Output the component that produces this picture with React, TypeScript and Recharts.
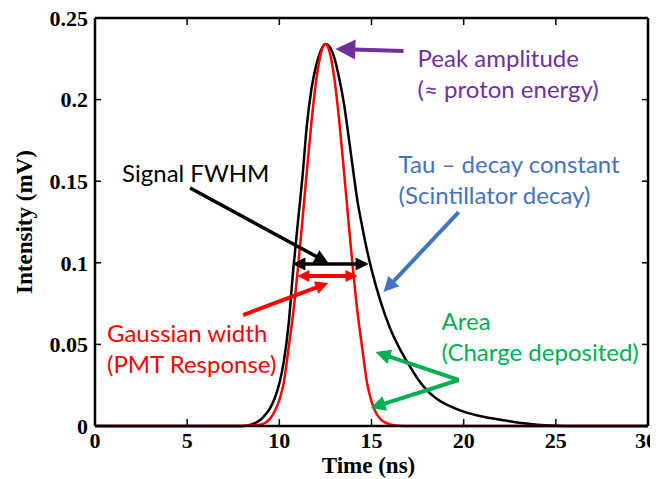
import React from "react";
import {
  LineChart,
  Line,
  XAxis,
  YAxis,
  CartesianGrid,
  ReferenceLine,
  ReferenceDot,
} from "recharts";

// time axis (ns) – denser around the pulse
const timeNs = [
  0, 1, 2, 3, 4, 5, 6, 7, 8, 8.5, 9, 9.25, 9.5, 9.75, 10, 10.25, 10.5, 10.75,
  11, 11.25, 11.5, 11.75, 12, 12.25, 12.5, 12.75, 13, 13.25, 13.5, 13.75, 14,
  14.25, 14.5, 14.75, 15, 15.5, 16, 16.5, 17, 17.5, 18, 18.5, 19, 19.5, 20, 21,
  22, 23, 24, 25, 26, 27, 28, 29, 30,
];

// measured signal (black)
const signalMv = [
  0, 0, 0, 0, 0, 0, 0, 0, 0, 0.001, 0.004, 0.007, 0.011, 0.017, 0.026, 0.04,
  0.062, 0.095, 0.124, 0.152, 0.185, 0.207, 0.221, 0.23, 0.234, 0.232, 0.225,
  0.213, 0.198, 0.178, 0.157, 0.137, 0.122, 0.108, 0.096, 0.076, 0.06, 0.048,
  0.038, 0.029, 0.022, 0.017, 0.0135, 0.011, 0.0088, 0.0058, 0.0038, 0.002,
  0.0008, 0.0002, 0, 0, 0, 0, 0,
];

// gaussian PMT response (red)
const gaussianMv = [
  0, 0, 0, 0, 0, 0, 0, 0, 0, 0.0004, 0.001, 0.002, 0.0045, 0.009, 0.016, 0.027,
  0.0475, 0.069, 0.0955, 0.1255, 0.157, 0.187, 0.2118, 0.2282, 0.234, 0.2282,
  0.2118, 0.187, 0.157, 0.1255, 0.0955, 0.069, 0.0475, 0.027, 0.015, 0.004,
  0.001, 0.0002, 0, 0, 0, 0, 0, 0, 0, 0, 0, 0, 0, 0, 0, 0, 0, 0, 0,
];

const xTicks = [0, 5, 10, 15, 20, 25, 30];
const yTicks = [0, 0.05, 0.1, 0.15, 0.2, 0.25];
const xMax = 30;
const yMax = 0.25;

const data = timeNs.map((t, i) => ({ t, signal: signalMv[i], gauss: gaussianMv[i] }));

// annotations in data units (time, intensity) – left edge / baseline of first line
const notes = [
  { lines: ["Peak amplitude", "(\u2248 proton energy)"], t: 17.5, v: 0.22, color: "#7030A0" },
  { lines: ["Tau \u2013 decay constant", "(Scintillator decay)"], t: 16.47, v: 0.155, color: "#4472C4" },
  { lines: ["Signal FWHM"], t: 1.47, v: 0.1495, color: "#000000" },
  { lines: ["Gaussian width", "(PMT Response)"], t: 0.65, v: 0.0515, color: "#FF0000" },
  { lines: ["Area", "(Charge deposited)"], t: 18.8, v: 0.0588, color: "#00B050" },
];

const arrows = [
  { from: [16.74, 0.2298], to: [13.04, 0.231], color: "#7030A0", both: false, head: 20, w: 4 },
  { from: [19.73, 0.1311], to: [15.65, 0.0821], color: "#4472C4", both: false, head: 15, w: 4 },
  { from: [5.16, 0.1458], to: [12.66, 0.0999], color: "#000000", both: false, head: 14, w: 3.5 },
  { from: [10.71, 0.0993], to: [14.84, 0.0993], color: "#000000", both: true, head: 13, w: 3.5 },
  { from: [10.98, 0.0919], to: [14.24, 0.0919], color: "#FF0000", both: true, head: 12, w: 4 },
  { from: [8.04, 0.068], to: [12.66, 0.0876], color: "#FF0000", both: false, head: 13, w: 4 },
  { from: [19.73, 0.0282], to: [15.22, 0.0453], color: "#00B050", both: false, head: 15, w: 4 },
  { from: [19.73, 0.0282], to: [14.95, 0.011], color: "#00B050", both: false, head: 15, w: 4 },
];

// chart box
const W = 646;
const H = 471;
const margin = { top: 10, right: 6, bottom: 0, left: 0 };
const yAxisW = 87;
const xAxisH = 53;
const plotW = W - margin.left - margin.right - yAxisW;
const plotH = H - margin.top - margin.bottom - xAxisH;
const tickLen = 7;
const tickGap = 13;

const serif = "'Liberation Serif', 'Times New Roman', serif";
const sans = "Lato, 'Open Sans', sans-serif";

const arrowShape = (color: string, both: boolean, head: number, w: number) => (p: any) => {
  const { x1, y1, x2, y2 } = p;
  const dx = x2 - x1;
  const dy = y2 - y1;
  const len = Math.sqrt(dx * dx + dy * dy) || 1;
  const ux = dx / len;
  const uy = dy / len;
  const px = -uy;
  const py = ux;
  const hw = head * 0.5;
  const tri = (tx: number, ty: number, dirx: number, diry: number) => {
    const bx = tx - dirx * head;
    const by = ty - diry * head;
    return `${tx},${ty} ${bx + px * hw},${by + py * hw} ${bx - px * hw},${by - py * hw}`;
  };
  const sx = both ? x1 + ux * (head - 2) : x1;
  const sy = both ? y1 + uy * (head - 2) : y1;
  return (
    <g>
      <line x1={sx} y1={sy} x2={x2 - ux * (head - 2)} y2={y2 - uy * (head - 2)} stroke={color} strokeWidth={w} />
      <polygon points={tri(x2, y2, ux, uy)} fill={color} />
      {both && <polygon points={tri(x1, y1, -ux, -uy)} fill={color} />}
    </g>
  );
};

const noteShape = (lines: string[], color: string) => (p: any) => (
  <text x={p.cx} y={p.cy} fill={color} fontFamily={sans} fontSize={24}>
    {lines.map((l, i) => (
      <tspan key={i} x={p.cx} dy={i === 0 ? 0 : 31}>
        {l}
      </tspan>
    ))}
  </text>
);

const tickFont = { fill: "#000", fontSize: 22, fontWeight: "bold", fontFamily: serif };

// bottom label + mirrored inward tick on the top edge
const XTick = (p: any) => {
  const { x, y, payload } = p;
  const topY = y - (tickGap - tickLen) - plotH;
  const v = payload.value;
  return (
    <g>
      <text x={x} y={y} dy="0.71em" textAnchor="middle" {...tickFont}>
        {v}
      </text>
      {v !== 0 && v !== xMax && (
        <path d={`M${x},${topY}V${topY + tickLen}`} stroke="#000" strokeWidth={1.5} fill="none" />
      )}
    </g>
  );
};

// left label + mirrored inward tick on the right edge
const YTick = (p: any) => {
  const { x, y, payload } = p;
  const rightX = x + (tickGap - 6) + plotW;
  const v = payload.value;
  return (
    <g>
      <text x={x} y={y} dy="0.355em" textAnchor="end" {...tickFont}>
        {v}
      </text>
      {v !== 0 && v !== yMax && (
        <path d={`M${rightX},${y}H${rightX - 6}`} stroke="#000" strokeWidth={1.5} fill="none" />
      )}
    </g>
  );
};

const YTitle = (props: any) => {
  const vb = props.viewBox;
  const cx = vb.x + 16;
  const cy = vb.y + vb.height / 2;
  return (
    <text
      x={cx}
      y={cy}
      transform={`rotate(-90 ${cx} ${cy})`}
      textAnchor="middle"
      dominantBaseline="central"
      fontFamily={serif}
      fontWeight="bold"
      fontSize={23}
      fill="#000"
    >
      Intensity (mV)
    </text>
  );
};

const XTitle = (props: any) => {
  const vb = props.viewBox;
  const cx = vb.x + vb.width / 2 - 3;
  const cy = vb.y + 39;
  return (
    <text
      x={cx}
      y={cy}
      textAnchor="middle"
      dominantBaseline="central"
      fontFamily={serif}
      fontWeight="bold"
      fontSize={23}
      fill="#000"
    >
      Time (ns)
    </text>
  );
};

const axisLine = { stroke: "#000", strokeWidth: 2.5 };
const tickLine = { stroke: "#000", strokeWidth: 1.5 };

export default function App() {
  return (
    <LineChart width={W} height={H} data={data} margin={margin}>
      {/* top and right edges of the box */}
      <CartesianGrid
        horizontalValues={[yMax]}
        verticalValues={[xMax]}
        stroke="#000"
        strokeWidth={2.5}
        strokeOpacity={1}
      />
      <XAxis
        dataKey="t"
        type="number"
        domain={[0, xMax]}
        ticks={xTicks}
        height={xAxisH}
        tick={XTick}
        axisLine={axisLine}
        tickLine={tickLine}
        tickSize={-tickLen}
        tickMargin={tickGap}
        label={{ content: XTitle }}
      />
      <YAxis
        type="number"
        domain={[0, yMax]}
        ticks={yTicks}
        width={yAxisW}
        tick={YTick}
        axisLine={axisLine}
        tickLine={tickLine}
        tickSize={-6}
        tickMargin={tickGap}
        label={{ content: YTitle }}
      />
      <Line
        type="monotone"
        dataKey="signal"
        stroke="#000000"
        strokeWidth={2.5}
        dot={false}
        isAnimationActive={false}
      />
      <Line
        type="monotone"
        dataKey="gauss"
        stroke="#FF0000"
        strokeWidth={2.5}
        dot={false}
        isAnimationActive={false}
      />
      {arrows.map((a, i) => (
        <ReferenceLine
          key={`a${i}`}
          segment={[
            { x: a.from[0], y: a.from[1] },
            { x: a.to[0], y: a.to[1] },
          ]}
          ifOverflow="visible"
          shape={arrowShape(a.color, a.both, a.head, a.w)}
        />
      ))}
      {notes.map((n, i) => (
        <ReferenceDot
          key={`n${i}`}
          x={n.t}
          y={n.v}
          r={1}
          ifOverflow="visible"
          shape={noteShape(n.lines, n.color)}
        />
      ))}
    </LineChart>
  );
}
